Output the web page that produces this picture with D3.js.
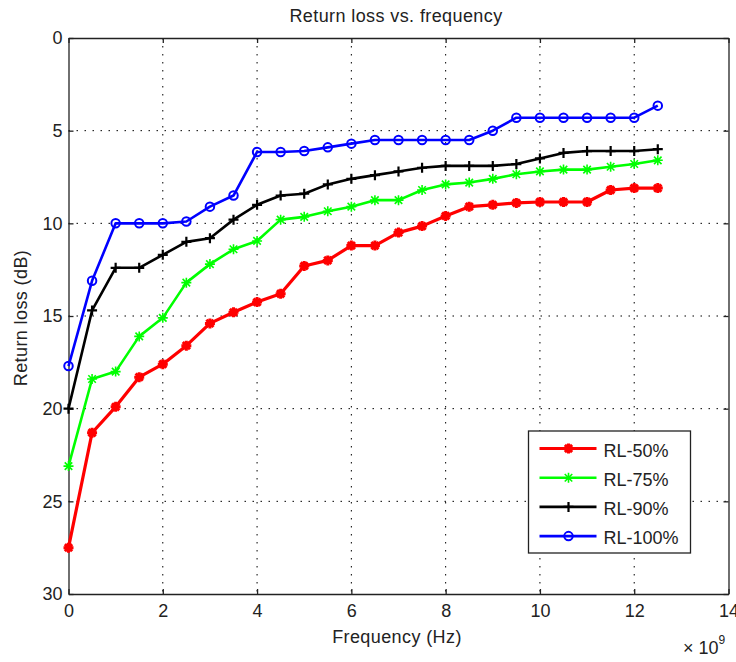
<!DOCTYPE html>
<html>
<head>
<meta charset="utf-8">
<script src="https://cdn.jsdelivr.net/npm/d3@7"></script>
<style>
  body { margin: 0; background: #fff; }
  text { font-family: "Liberation Sans", Arial, sans-serif; }
</style>
</head>
<body>
<div id="chart"></div>
<script>
// frequency in units of 1e9 Hz
var freq = [0, 0.5, 1, 1.5, 2, 2.5, 3, 3.5, 4, 4.5, 5, 5.5, 6, 6.5, 7, 7.5, 8, 8.5, 9, 9.5, 10, 10.5, 11, 11.5, 12, 12.5];

var rl50  = [27.5, 21.3, 19.9, 18.3, 17.6, 16.6, 15.4, 14.8, 14.25, 13.8, 12.3, 12.0, 11.2, 11.2, 10.5, 10.15, 9.6, 9.1, 9.0, 8.9, 8.85, 8.85, 8.85, 8.2, 8.1, 8.1];
var rl75  = [23.1, 18.4, 18.0, 16.1, 15.1, 13.2, 12.2, 11.4, 10.95, 9.8, 9.65, 9.35, 9.1, 8.75, 8.75, 8.2, 7.9, 7.8, 7.6, 7.35, 7.2, 7.1, 7.1, 6.95, 6.8, 6.6];
var rl90  = [20.0, 14.7, 12.4, 12.4, 11.7, 11.0, 10.8, 9.8, 9.0, 8.5, 8.4, 7.9, 7.6, 7.4, 7.2, 7.0, 6.9, 6.9, 6.9, 6.8, 6.5, 6.2, 6.1, 6.1, 6.1, 6.0];
var rl100 = [17.7, 13.1, 10.0, 10.0, 10.0, 9.9, 9.1, 8.5, 6.15, 6.15, 6.1, 5.9, 5.7, 5.5, 5.5, 5.5, 5.5, 5.5, 5.0, 4.3, 4.3, 4.3, 4.3, 4.3, 4.3, 3.65];

var seriesNames = ["RL-50%", "RL-75%", "RL-90%", "RL-100%"];
var seriesColors = ["#ff0000", "#00ff00", "#000000", "#0000ff"];
var seriesMarkers = ["star", "asterisk", "plus", "circle"];
var seriesValues = [rl50, rl75, rl90, rl100];

var xTicks = [0, 2, 4, 6, 8, 10, 12, 14];
var yTicks = [0, 5, 10, 15, 20, 25, 30];

var width = 736, height = 662;
var margin = {left: 68.5, right: 7.5, top: 38, bottom: 68};
var iw = width - margin.left - margin.right;
var ih = height - margin.top - margin.bottom;
var fs = 18;

var svg = d3.select("#chart").append("svg")
    .attr("width", width)
    .attr("height", height);

var g = svg.append("g")
    .attr("transform", "translate(" + margin.left + "," + margin.top + ")");

var x = d3.scaleLinear().domain([0, 14]).range([0, iw]);
var y = d3.scaleLinear().domain([0, 30]).range([0, ih]);

// grid
g.append("g").selectAll("line")
    .data(xTicks.slice(1, -1))
    .enter().append("line")
    .attr("x1", function(d) { return x(d); })
    .attr("x2", function(d) { return x(d); })
    .attr("y1", 0).attr("y2", ih)
    .attr("stroke", "#000")
    .attr("stroke-width", 1)
    .attr("stroke-dasharray", "1.5,6.5");
g.append("g").selectAll("line")
    .data(yTicks.slice(1, -1))
    .enter().append("line")
    .attr("y1", function(d) { return y(d); })
    .attr("y2", function(d) { return y(d); })
    .attr("x1", 0).attr("x2", iw)
    .attr("stroke", "#000")
    .attr("stroke-width", 1)
    .attr("stroke-dasharray", "1.5,6.5");

// axes
var xAxis = d3.axisBottom(x).tickValues(xTicks).tickSizeInner(-5).tickSizeOuter(0).tickPadding(10);
var yAxis = d3.axisLeft(y).tickValues(yTicks).tickSizeInner(-5).tickSizeOuter(0).tickPadding(6);
var xTop = d3.axisTop(x).tickValues(xTicks).tickSizeInner(-5).tickSizeOuter(0).tickFormat("");
var yRight = d3.axisRight(y).tickValues(yTicks).tickSizeInner(-5).tickSizeOuter(0).tickFormat("");

function styleAxis(sel) {
  sel.selectAll("path").attr("stroke", "#222").attr("stroke-width", 1.3);
  sel.selectAll("line").attr("stroke", "#222").attr("stroke-width", 1.3);
  sel.selectAll("text").attr("font-size", fs).attr("fill", "#222")
     .attr("font-family", "'Liberation Sans', Arial, sans-serif");
}

g.append("g").attr("transform", "translate(0," + ih + ")").call(xAxis).call(styleAxis);
g.append("g").call(yAxis).call(styleAxis);
g.append("g").call(xTop).call(styleAxis);
g.append("g").attr("transform", "translate(" + iw + ",0)").call(yRight).call(styleAxis);

// markers
function drawMarker(sel, type, color, size) {
  var s = size;
  if (type === "circle") {
    sel.append("circle").attr("r", s * 0.85).attr("fill", "none")
      .attr("stroke", color).attr("stroke-width", 2);
  } else if (type === "plus") {
    sel.append("path").attr("d", "M" + (-s) + ",0H" + s + "M0," + (-s) + "V" + s)
      .attr("stroke", color).attr("stroke-width", 2.2);
  } else if (type === "asterisk") {
    var d = s * 0.75;
    sel.append("path").attr("d", "M" + (-s) + ",0H" + s + "M0," + (-s) + "V" + s +
        "M" + (-d) + "," + (-d) + "L" + d + "," + d + "M" + (-d) + "," + d + "L" + d + "," + (-d))
      .attr("stroke", color).attr("stroke-width", 1.6);
  } else {
    var d2 = s * 0.72;
    sel.append("path").attr("d", "M" + (-s) + ",0H" + s + "M0," + (-s) + "V" + s +
        "M" + (-d2) + "," + (-d2) + "L" + d2 + "," + d2 + "M" + (-d2) + "," + d2 + "L" + d2 + "," + (-d2))
      .attr("stroke", color).attr("stroke-width", 3);
  }
}

var line = d3.line()
    .x(function(d) { return x(d[0]); })
    .y(function(d) { return y(d[1]); });

var lineWidths = [3.2, 2.6, 2.6, 2.6];

seriesValues.forEach(function(vals, i) {
  var pts = freq.map(function(f, j) { return [f, vals[j]]; });
  g.append("path")
    .datum(pts)
    .attr("d", line)
    .attr("fill", "none")
    .attr("stroke", seriesColors[i])
    .attr("stroke-width", lineWidths[i])
    .attr("stroke-linejoin", "round");
  g.append("g").selectAll("g")
    .data(pts)
    .enter().append("g")
    .attr("transform", function(d) { return "translate(" + x(d[0]) + "," + y(d[1]) + ")"; })
    .each(function() { drawMarker(d3.select(this), seriesMarkers[i], seriesColors[i], 5); });
});

// title and labels
svg.append("text")
    .attr("x", 396)
    .attr("y", 22)
    .attr("text-anchor", "middle")
    .attr("font-size", fs)
    .attr("letter-spacing", 0.4)
    .attr("fill", "#222")
    .text("Return loss vs. frequency");

svg.append("text")
    .attr("x", 397)
    .attr("y", 643)
    .attr("text-anchor", "middle")
    .attr("font-size", fs)
    .attr("letter-spacing", 0.4)
    .attr("fill", "#222")
    .text("Frequency (Hz)");

svg.append("text")
    .attr("transform", "translate(27,318) rotate(-90)")
    .attr("text-anchor", "middle")
    .attr("font-size", fs)
    .attr("letter-spacing", 0.4)
    .attr("fill", "#222")
    .text("Return loss (dB)");

var expo = svg.append("text")
    .attr("x", 683)
    .attr("y", 654)
    .attr("font-size", fs)
    .attr("fill", "#222");
expo.append("tspan").text("\u00d7 10");
expo.append("tspan").attr("dy", -10).attr("font-size", 12).text("9");

// legend
var lg = svg.append("g").attr("transform", "translate(528.5,431)");
lg.append("rect")
    .attr("width", 162).attr("height", 122)
    .attr("fill", "#fff")
    .attr("stroke", "#222").attr("stroke-width", 1.3);
seriesNames.forEach(function(name, i) {
  var yy = 17.5 + i * 29.2;
  lg.append("line")
    .attr("x1", 11).attr("x2", 68).attr("y1", yy).attr("y2", yy)
    .attr("stroke", seriesColors[i]).attr("stroke-width", lineWidths[i]);
  var m = lg.append("g").attr("transform", "translate(40," + yy + ")");
  drawMarker(m, seriesMarkers[i], seriesColors[i], 5);
  lg.append("text")
    .attr("x", 75).attr("y", yy + 8)
    .attr("font-size", fs)
    .attr("fill", "#222")
    .text(name);
});
</script>
</body>
</html>
